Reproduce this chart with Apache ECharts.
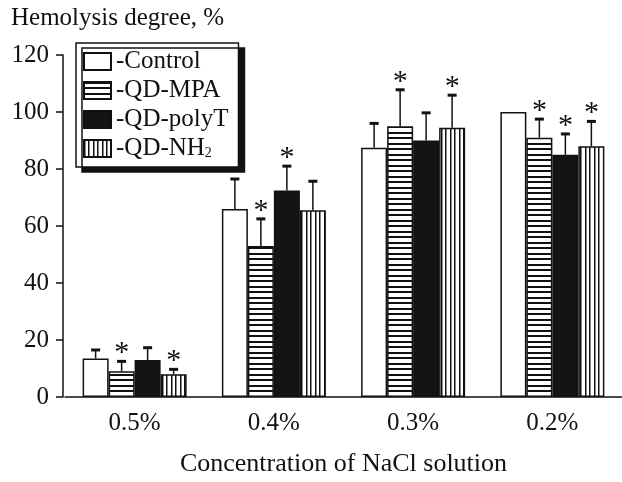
<!DOCTYPE html>
<html><head><meta charset="utf-8">
<script src="https://cdn.jsdelivr.net/npm/echarts@6/dist/echarts.min.js"></script>
<style>html,body{margin:0;padding:0;background:#fff}#c{width:622px;height:482px}</style>
</head><body><div id="c"></div>
<script>
const categories = ['0.5%', '0.4%', '0.3%', '0.2%'];
const seriesNames = ['Control', 'QD-MPA', 'QD-polyT', 'QD-NH2'];
const controlVals = [13.5, 66, 87.5, 100];
const mpaVals = [9, 53, 95, 91];
const polyTVals = [13, 72.5, 90, 85];
const nh2Vals = [8, 65.5, 94.5, 88];
const controlErr = [3, 10.5, 8.5, 0];
const mpaErr = [3.5, 9.5, 12.8, 6.5];
const polyTErr = [4.3, 8.5, 9.7, 7.3];
const nh2Err = [1.7, 10.2, 11.4, 8.7];
const controlStar = [0, 0, 0, 0];
const mpaStar = [1, 1, 1, 1];
const polyTStar = [0, 1, 0, 1];
const nh2Star = [1, 0, 1, 1];
const yTicks = [0, 20, 40, 60, 80, 100, 120];

const FONT = "'Liberation Serif','Times New Roman',serif";
const BAR_W = 26;

function hPattern() {
  const c = document.createElement('canvas'); c.width = 8; c.height = 11;
  const x = c.getContext('2d');
  x.fillStyle = '#fff'; x.fillRect(0, 0, 8, 11);
  x.fillStyle = '#111'; x.fillRect(0, 0, 8, 2); x.fillRect(0, 5, 8, 2);
  return c;
}
function vPattern() {
  const c = document.createElement('canvas'); c.width = 9; c.height = 8;
  const x = c.getContext('2d');
  x.fillStyle = '#fff'; x.fillRect(0, 0, 9, 8);
  x.fillStyle = '#111'; x.fillRect(0, 0, 1.5, 8); x.fillRect(4, 0, 1.5, 8);
  return c;
}
const fills = ['#ffffff', { image: hPattern(), repeat: 'repeat' }, '#141414', { image: vPattern(), repeat: 'repeat' }];
const valsAll = [controlVals, mpaVals, polyTVals, nh2Vals];
const errAll = [controlErr, mpaErr, polyTErr, nh2Err];
const starAll = [controlStar, mpaStar, polyTStar, nh2Star];

const errData = [];
valsAll.forEach((vals, s) => vals.forEach((v, i) => {
  errData.push([i, v, v + errAll[s][i], s, starAll[s][i]]);
}));

const series = seriesNames.map((n, s) => ({
  name: n, type: 'bar', barWidth: BAR_W, barGap: '0%',
  data: valsAll[s],
  itemStyle: { color: fills[s], borderColor: '#111', borderWidth: 1.5 },
  emphasis: { disabled: true }, animation: false, z: 2
}));
series.push({
  type: 'custom', z: 5, animation: false, silent: true,
  data: errData,
  renderItem: function (params, api) {
    const cat = api.value(0), v = api.value(1), top = api.value(2), s = api.value(3), star = api.value(4);
    const off = (s - 1.5) * BAR_W;
    const pb = api.coord([cat, v]);
    const pt = api.coord([cat, top]);
    const x = pb[0] + off;
    const ch = [];
    if (top > v) {
      ch.push({ type: 'line', shape: { x1: x, y1: pb[1], x2: x, y2: pt[1] }, style: { stroke: '#111', lineWidth: 1.5 } });
      ch.push({ type: 'rect', shape: { x: x - 4.5, y: pt[1] - 1.5, width: 9, height: 3 }, style: { fill: '#111' } });
    }
    if (star) {
      ch.push({ type: 'text', x: x, y: pt[1] - 8, style: { text: '*', font: '30px ' + FONT, fill: '#111', align: 'center', verticalAlign: 'middle' } });
    }
    return { type: 'group', children: ch };
  }
});

const chart = echarts.init(document.getElementById('c'), null, { renderer: 'canvas' });
chart.setOption({
  animation: false,
  backgroundColor: '#fff',
  title: { text: 'Hemolysis degree, %', left: 11, top: 6, padding: 0, textStyle: { fontFamily: FONT, fontSize: 25, fontWeight: 'normal', color: '#111' } },
  grid: { left: 65, top: 55, width: 557, height: 360, containLabel: false },
  legend: {
    data: seriesNames, orient: 'vertical', left: 76, top: 43,
    padding: [6, 10, 6, 7], itemWidth: 27, itemHeight: 17, itemGap: 4, itemTextGap: 1,
    icon: 'rect', selectedMode: false,
    backgroundColor: '#fff', borderColor: '#111', borderWidth: 1.5,
    shadowColor: '#111', shadowBlur: 0, shadowOffsetX: 6, shadowOffsetY: 5,
    formatter: function (n) { return n === 'QD-NH2' ? '-QD-NH{s|2}' : '-' + n; },
    textStyle: { fontFamily: FONT, fontSize: 25, lineHeight: 25, color: '#111', rich: { s: { fontFamily: FONT, fontSize: 14, lineHeight: 14, color: '#111', padding: [9, 0, 0, 0] } } }
  },
  xAxis: {
    type: 'category', data: categories,
    axisLine: { lineStyle: { color: '#111', width: 1.5 } },
    axisTick: { show: false },
    axisLabel: { fontFamily: FONT, fontSize: 25, color: '#111', margin: 14 },
    name: 'Concentration of NaCl solution', nameLocation: 'middle', nameGap: 54,
    nameTextStyle: { fontFamily: FONT, fontSize: 26, color: '#111' }
  },
  yAxis: {
    type: 'value', min: yTicks[0], max: yTicks[yTicks.length - 1], interval: 20, offset: 2,
    axisLine: { show: true, lineStyle: { color: '#111', width: 1.5 } },
    axisTick: { show: true, length: 7, lineStyle: { color: '#111', width: 1.5 } },
    axisLabel: { fontFamily: FONT, fontSize: 25, color: '#111', margin: 14 },
    splitLine: { show: false }
  },
  series: series
});
</script></body></html>
